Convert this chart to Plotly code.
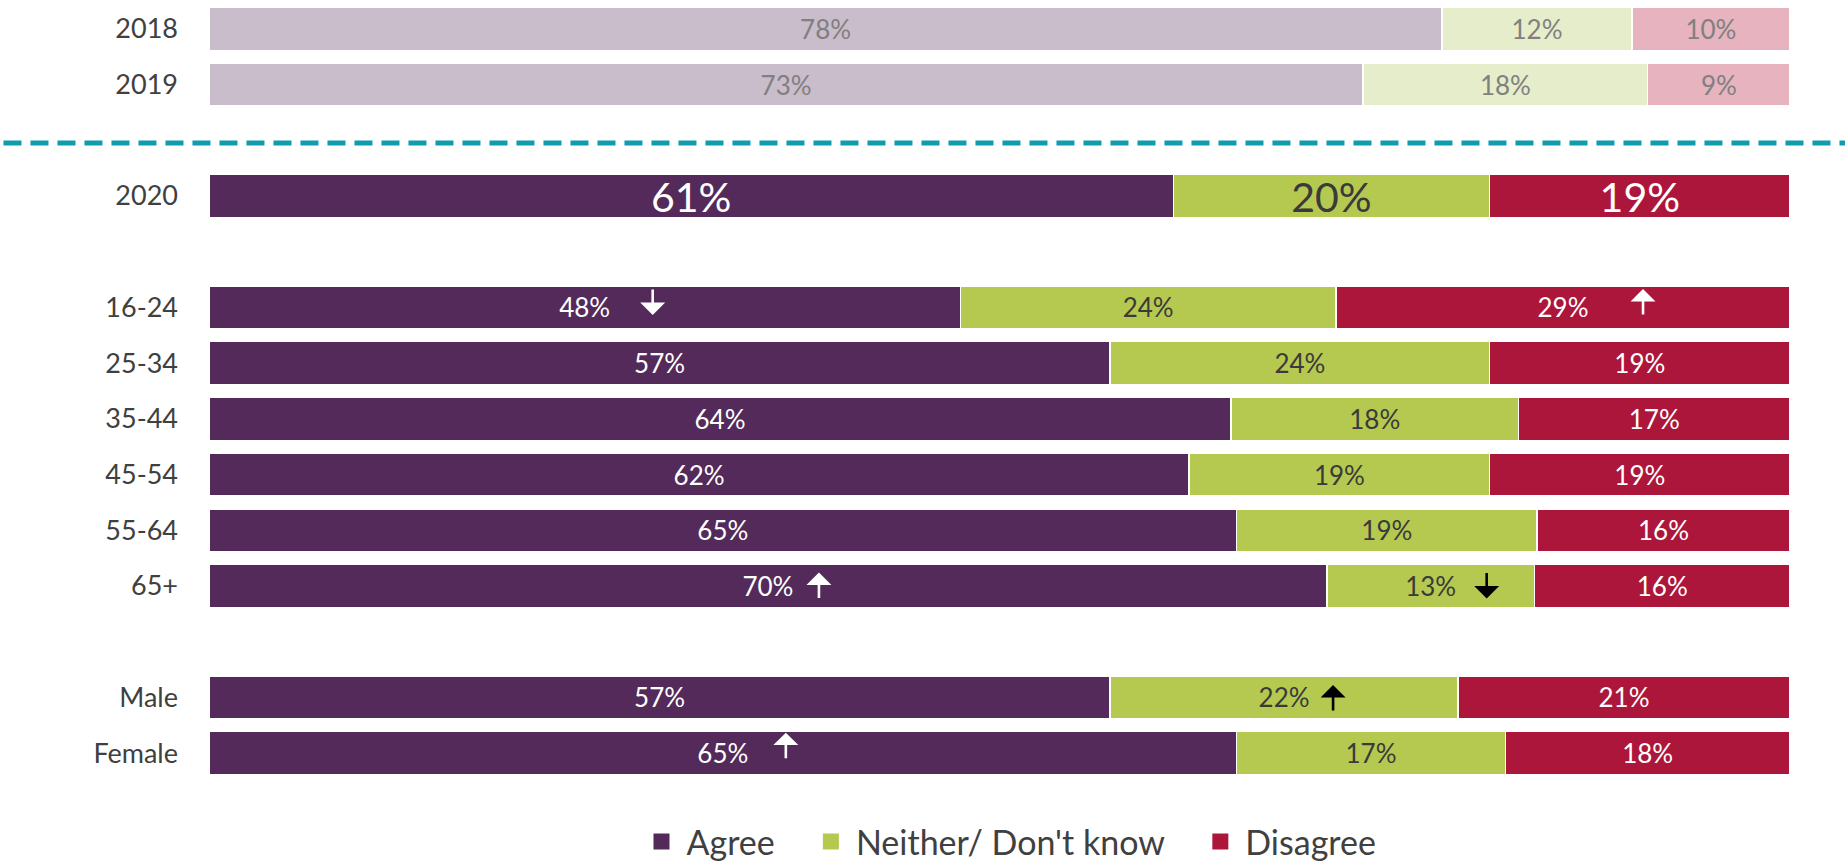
import plotly.graph_objects as go

# ---- data -------------------------------------------------------------
years_hist = ["2018", "2019"]
agree_hist = [78, 73]
neither_hist = [12, 18]
disagree_hist = [10, 9]

rows_current = ["2020", "16-24", "25-34", "35-44", "45-54", "55-64", "65+", "Male", "Female"]
agree = [61, 48, 57, 64, 62, 65, 70, 57, 65]
neither = [20, 24, 24, 18, 19, 19, 13, 22, 17]
disagree = [19, 29, 19, 17, 19, 16, 16, 21, 18]

series_names = ["Agree", "Neither/ Don't know", "Disagree"]

# significant changes (row, series, direction)
sig_changes = [
    ("16-24", "Agree", "down"),
    ("16-24", "Disagree", "up"),
    ("65+", "Agree", "up"),
    ("65+", "Neither/ Don't know", "down"),
    ("Male", "Neither/ Don't know", "up"),
    ("Female", "Agree", "up"),
]

# ---- layout helpers ---------------------------------------------------
groups = [years_hist, ["2020"], rows_current[1:7], rows_current[7:]]
row_pos = {}
p = 0
for g in groups:
    for name in g:
        row_pos[name] = p
        p += 1
    p += 1  # blank row between groups
y_top, y_bottom = -0.5, max(row_pos.values()) + 0.5

strong = ["#532A5A", "#B5C950", "#AD163B"]
faded = ["#C9BCCB", "#E6EDCA", "#E6B3BE"]
label_col = ["white", "#3A3A3A", "white"]
FONT = "Lato, 'Open Sans', sans-serif"
BAR_W = 0.77

# pixel nudges for the significance arrows
# (dx from segment centre, dy of arrow centre below the row centre)
arrow_nudge = {
    ("16-24", "Agree"): (68, -6),
    ("16-24", "Disagree"): (80, -5),
    ("65+", "Agree"): (51, 0),
    ("65+", "Neither/ Don't know"): (56, -1),
    ("Male", "Neither/ Don't know"): (49, 1),
    ("Female", "Agree"): (63, -7),
}
ARROW_LEN = 27

fig = go.Figure()

hist_vals = [agree_hist, neither_hist, disagree_hist]
cur_vals = [agree, neither, disagree]

for i, name in enumerate(series_names):
    fig.add_trace(go.Bar(
        y=[row_pos[r] for r in years_hist], x=hist_vals[i], orientation="h",
        width=BAR_W, name=name, showlegend=False,
        marker=dict(color=faded[i], line=dict(color="white", width=1.5)),
        text=[f"{v}%" for v in hist_vals[i]], textposition="inside",
        insidetextanchor="middle", textangle=0, constraintext="none",
        textfont=dict(family=FONT, size=26, color="#808080"),
        hoverinfo="skip",
    ))

for i, name in enumerate(series_names):
    sizes = [41 if r == "2020" else 26 for r in rows_current]
    fig.add_trace(go.Bar(
        y=[row_pos[r] for r in rows_current], x=cur_vals[i], orientation="h",
        width=BAR_W, name=name, showlegend=False,
        marker=dict(color=strong[i], line=dict(color="white", width=1.5)),
        text=[f"{v}%" for v in cur_vals[i]], textposition="inside",
        insidetextanchor="middle", textangle=0, constraintext="none",
        textfont=dict(family=FONT, size=sizes, color=label_col[i]),
        hoverinfo="skip",
    ))

# legend keys as square markers (trailing spaces widen the gap between entries)
pad = ["\u00a0\u00a0\u00a0", "\u00a0\u00a0\u00a0", ""]
for i, name in enumerate(series_names):
    fig.add_trace(go.Scatter(
        x=[None], y=[None], mode="markers", name=name + pad[i],
        marker=dict(symbol="square", size=16, color=strong[i]),
        hoverinfo="skip",
    ))

# significance arrows, placed at the centre of the normalised segment
for row, series, direction in sig_changes:
    k = rows_current.index(row)
    vals = [v[k] for v in cur_vals]
    total = sum(vals)
    j = series_names.index(series)
    mid = (sum(vals[:j]) + vals[j] / 2) / total * 100
    dx, dy = arrow_nudge[(row, series)]
    half = ARROW_LEN / 2
    col = "black" if series == "Neither/ Don't know" else "white"
    if direction == "up":
        tip_shift, ay = -dy + half, ARROW_LEN
    else:
        tip_shift, ay = -dy - half, -ARROW_LEN
    fig.add_annotation(
        x=mid, y=row_pos[row], xref="x", yref="y", text="",
        showarrow=True, arrowhead=1, arrowsize=1.6, arrowwidth=2.6,
        arrowcolor=col, ax=0, ay=ay, xshift=dx, yshift=tip_shift,
    )

# dashed divider between previous years and 2020
div_y = (row_pos["2019"] + row_pos["2020"]) / 2 + 0.05
div_paper = (y_bottom - div_y) / (y_bottom - y_top)
fig.add_shape(type="line", xref="paper", yref="paper",
              x0=-0.13, x1=1.04, y0=div_paper, y1=div_paper,
              line=dict(color="#0E9CAE", width=5, dash="18px,9px"))

fig.update_layout(
    width=1845, height=864,
    barmode="stack", barnorm="percent",
    plot_bgcolor="white", paper_bgcolor="white",
    margin=dict(l=209, r=55, t=1, b=83, autoexpand=False),
    font=dict(family=FONT, color="#404040"),
    xaxis=dict(range=[0, 100], visible=False, fixedrange=True),
    yaxis=dict(range=[y_bottom, y_top], tickvals=list(row_pos.values()),
               ticktext=list(row_pos.keys()), showgrid=False, zeroline=False,
               showline=False, ticks="", ticklabelstandoff=30,
               tickfont=dict(family=FONT, size=27, color="#404040")),
    legend=dict(orientation="h", x=0.506, xanchor="center",
                yref="container", y=1 - 842 / 864, yanchor="middle",
                font=dict(family=FONT, size=34, color="#404040"),
                itemclick=False, itemdoubleclick=False, traceorder="normal",
                itemwidth=40),
    showlegend=True,
)

fig.write_html("out.html")
